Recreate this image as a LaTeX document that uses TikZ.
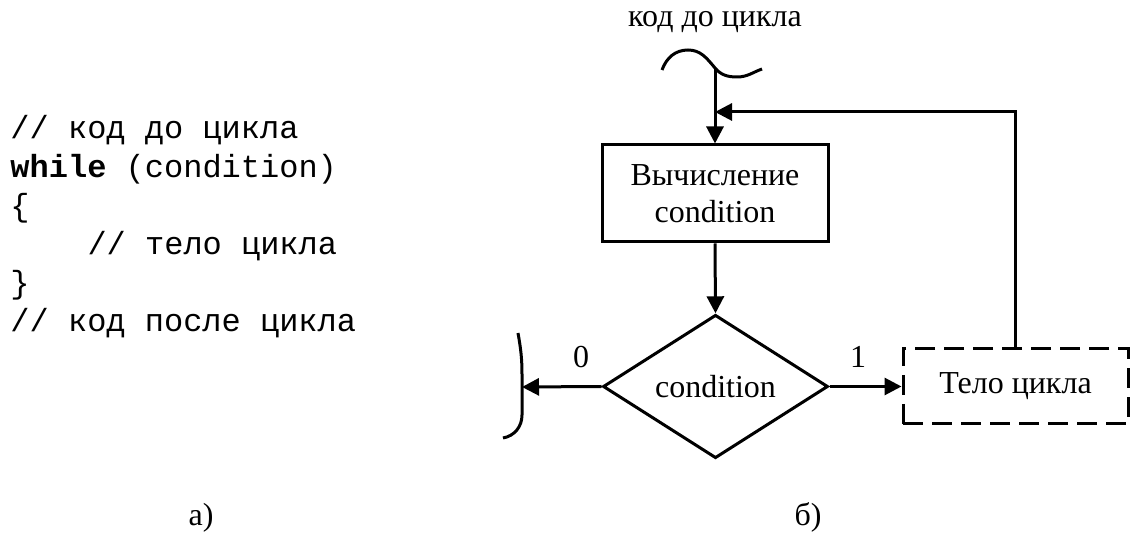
\documentclass[tikz,border=0pt]{standalone}
\usepackage{fontspec}
\setmainfont{Liberation Serif}
\setmonofont{Liberation Mono}
\usetikzlibrary{calc,positioning,shapes,arrows.meta}

\begin{document}
\begin{tikzpicture}[x=0.5pt,y=-0.5pt,line width=1.5pt,
  arr/.style={-{Triangle[length=8.5pt,width=8.5pt]}},
  code/.style={anchor=base west, inner sep=0pt, font=\ttfamily\fontsize{16}{19}\selectfont},
  txt/.style={anchor=base, inner sep=0pt, font=\fontsize{16}{19}\selectfont}]
\useasboundingbox (0,0) rectangle (1136,533);
\tikzstyle{blk}=[draw, rectangle, inner sep=0pt, align=center, font=\fontsize{16}{18.5}\selectfont]
% listing
\node[code] (c1) at (9,139) {// код до цикла};
\node[code] (c2) at (9,178) {\textbf{while} (condition)};
\node[code] (c3) at (9,216.6) {\{};
\node[code] (c4) at (86,255) {// тело цикла};
\node[code] (c5) at (9,293.4) {\}};
\node[code] (c6) at (9,332) {// код после цикла};
% flowchart
\node[txt] (before) at (715,27) {код до цикла};
\node[blk, minimum width=113pt, minimum height=48.5pt] (calc) at (715,193.5) {Вычисление\\condition};
\node[blk, shape=diamond, minimum width=112.5pt, minimum height=68.5pt] (cond) at (715.5,386.5) {condition};
\node[blk, dash pattern=on 10pt off 4.5pt, minimum width=112.5pt, minimum height=37.5pt] (body) at (1015.5,386.5) {Тело цикла};
\coordinate (entry) at (715,68);
\coordinate (join) at (715,112);
\coordinate (exit) at (522,387);
\draw (662,70) to[out=70,in=180] (688,50) to[out=0,in=130] (entry) to[out=-50,in=180] (737,77) to[out=0,in=-160] (762,69);
\draw[arr] (entry) -- (calc.north);
\draw[arr] (calc.south) -- (cond.north);
\draw[arr] (body.north) |- (join);
\draw[arr] (cond.west) -- (exit);
\draw[arr] (cond.east) -- (body.west);
\draw (518,333) to[out=-80,in=90] (522,375) -- (522,415) to[out=-90,in=10] (503,438);
\node[txt] (l0) at (581,368) {0};
\node[txt] (l1) at (858,368) {1};
% captions
\node[txt] (capa) at (201,526) {а)};
\node[txt] (capb) at (808,526) {б)};
\end{tikzpicture}
\end{document}
